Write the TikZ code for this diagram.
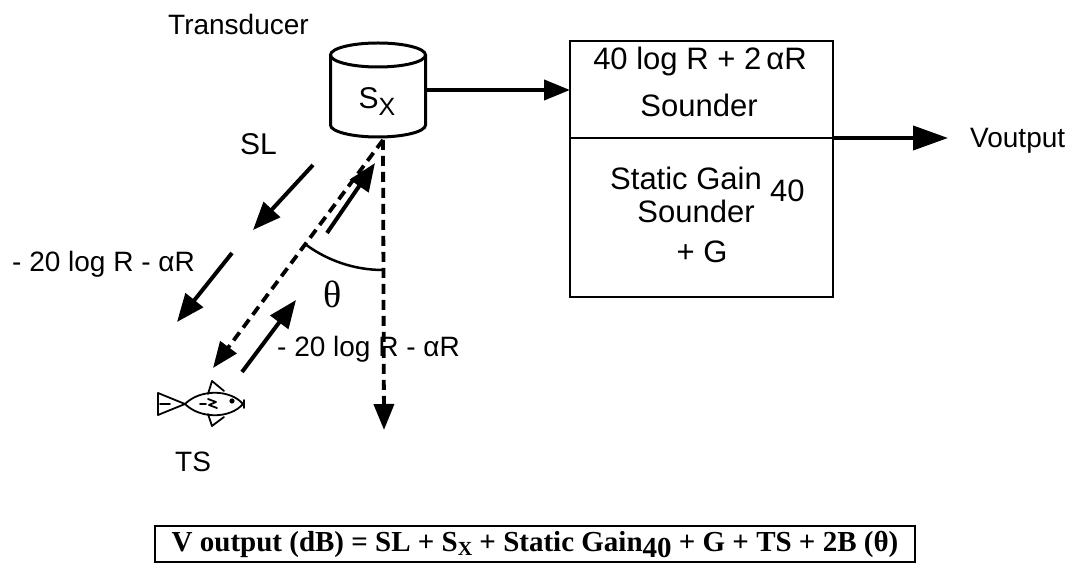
\documentclass[tikz,border=0pt]{standalone}
\usepackage{fontspec}
\setmainfont{Liberation Sans}
\newfontfamily\serifgr{Liberation Serif}
\usetikzlibrary{arrows.meta}

\begin{document}
\begin{tikzpicture}[x=1pt,y=1pt,
  lbl/.style={font=\fontsize{28}{32}\selectfont, inner sep=0pt},
  boxtxt/.style={font=\fontsize{31}{34}\selectfont, inner sep=0pt},
  bigarrow/.style={line width=4pt, -{Triangle[length=26pt,width=20pt]}},
  dasharrow/.style={line width=3.8pt, dash pattern=on 10pt off 6pt, -{Triangle[length=26pt,width=20pt]}},
  boxline/.style={line width=2.5pt},
  fishline/.style={line width=1.8pt, line join=round, line cap=round}]
\useasboundingbox (0,0) rectangle (1078,575);

% transducer cylinder
\filldraw[fill=white, line width=3pt]
  (330.5,520) -- (330.5,450) arc[start angle=180, end angle=360, x radius=47.5, y radius=12]
  -- (425.5,520);
\draw[line width=3pt] (378,520) ellipse[x radius=47.5, y radius=12];
\node[inner sep=0pt, anchor=base] (sx) at (377,466)
  {\fontsize{30}{32}\selectfont S\raisebox{-7pt}{\fontsize{25}{28}\selectfont X}};
\node[lbl, anchor=base west] (trans) at (168,540) {Transducer};
\coordinate (cylr) at (425.5,485);

% gain box
\draw[boxline] (570,278) rectangle (833,534);
\coordinate (boxl) at (570,485);
\coordinate (divl) at (570,437);
\coordinate (divr) at (833,437);
\draw[boxline] (divl) -- (divr);
\node[boxtxt, anchor=base] (tvg) at (700,505) {40 log R + 2\,αR};
\node[boxtxt, anchor=base] (snd1) at (699,458) {Sounder};
\node[boxtxt, anchor=base west] (sg) at (610,385) {Static Gain};
\node[boxtxt, anchor=base west] (sg40) at (770,373) {40};
\node[boxtxt, anchor=base] (snd2) at (696,352) {Sounder};
\node[boxtxt, anchor=base] (pg) at (702,312) {+ G};

% output
\coordinate (outend) at (948,437);
\node[lbl, anchor=base west] (vout) at (970,427) {Voutput};
\draw[bigarrow, -{Triangle[length=35pt,width=24pt]}] (divr) -- (outend);
\draw[bigarrow] (cylr) -- (boxl);

% beam geometry below the transducer
\coordinate (o) at (383,435);
\coordinate (fishend) at (213,207);
\coordinate (axisend) at (384,145);
\draw[dasharrow] (o) -- (fishend);
\draw[dasharrow] (o) -- (axisend);

% angle between beam and axis
\draw[line width=2.5pt] (o) ++(233.4:130) arc[start angle=233.4, end angle=270, radius=130];
\node[inner sep=0pt] (theta) at (333,281) {\serifgr\fontsize{38}{40}\selectfont θ};

% outgoing path losses
\coordinate (sla) at (313,410);
\coordinate (slb) at (253,345);
\coordinate (lsa) at (232,322);
\coordinate (lsb) at (177,253);
\draw[bigarrow, -{Triangle[length=28pt,width=22pt]}] (sla) -- (slb);
\draw[bigarrow, -{Triangle[length=28pt,width=22pt]}] (lsa) -- (lsb);
\node[lbl, font=\fontsize{30}{32}\selectfont, anchor=base west] (sl) at (240,420) {SL};
\node[lbl, anchor=base west] (loss1) at (12,303) {- 20 log R - αR};

% returning echo
\coordinate (eca) at (242,203);
\coordinate (ecb) at (296,275);
\coordinate (ecc) at (327,342);
\coordinate (ecd) at (375,412);
\draw[bigarrow, -{Triangle[length=28pt,width=22pt]}] (eca) -- (ecb);
\draw[bigarrow, -{Triangle[length=28pt,width=22pt]}] (ecc) -- (ecd);
\node[lbl, anchor=base west] (loss2) at (277,218) {- 20 log R - αR};

% fish target
\draw[fishline] (158,182) -- (158,160) -- (185,171) -- cycle;
\draw[fishline] (160,171) -- (170,171);
\draw[fishline] (185,171) .. controls (200,186) and (230,186) .. (243,171)
                          .. controls (230,156) and (200,156) .. (185,171);
\draw[fishline] (208,181) -- (212,194) -- (224,184);
\draw[fishline] (208,161) -- (212,149) -- (224,158);
\fill (232,174) circle (2.6);
\draw[fishline] (200,171) -- (206,171);
\draw[fishline] (208,176) -- (216,173) -- (209,170) -- (217,167);
\draw[fishline] (244,167) -- (244,175);
\node[lbl, anchor=base west] (ts) at (175,103) {TS};

% result equation
\draw[line width=2.2pt] (155,13) rectangle (915,49);
\node[inner sep=0pt, anchor=base] (eq) at (535,23)
  {\serifgr\bfseries\fontsize{29}{31}\selectfont V output (dB) = SL + S\raisebox{-4pt}{\fontsize{20}{21}\selectfont X} + Static Gain\raisebox{-6pt}{40} + G + TS + 2B (θ)};
\end{tikzpicture}
\end{document}
